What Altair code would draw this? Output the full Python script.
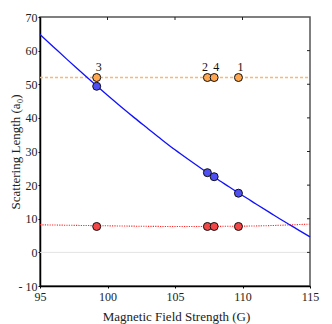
import altair as alt
import pandas as pd

# measured points
pt_B = [109.7, 107.4, 99.2, 107.9]
pt_label = ["1", "2", "3", "4"]
pt_orange = [52.0, 52.0, 52.0, 52.0]
pt_blue = [17.6, 23.7, 49.4, 22.5]
pt_red = [7.7, 7.7, 7.7, 7.7]

# blue curve
curve_B = [95, 96, 97, 98, 99, 100, 101, 102, 103, 104, 105, 106, 107, 108, 109, 110, 111, 112, 113, 114, 115]
curve_a = [64.8, 61.1, 57.4, 53.8, 50.2, 46.7, 43.3, 40.0, 36.8, 33.6, 30.5, 27.6, 24.8, 22.1, 19.5, 16.9, 14.4, 11.9, 9.4, 7.0, 4.6]

# orange dashed line
orange_B = [95, 115]
orange_a = [52.0, 52.0]

# red dotted line
red_B = [95, 100, 105, 110, 115]
red_a = [8.2, 7.9, 7.7, 7.8, 8.4]

x_ticks = [95, 100, 105, 110, 115]
y_ticks = [-10, 0, 10, 20, 30, 40, 50, 60, 70]
top_ticks = [100, 105, 110]
right_ticks = [0, 10, 20, 30, 40, 50, 60]

W, H = 270, 269
FONT = "Liberation Serif"

xs = alt.Scale(domain=[95, 115], nice=False, zero=False)
ys = alt.Scale(domain=[-10, 70], nice=False, zero=False)

pts = pd.DataFrame({"B": pt_B, "label": pt_label, "orange": pt_orange,
                    "blue": pt_blue, "red": pt_red})
curve = pd.DataFrame({"B": curve_B, "a": curve_a})
orl = pd.DataFrame({"B": orange_B, "a": orange_a})
rdl = pd.DataFrame({"B": red_B, "a": red_a})

xaxis = alt.Axis(values=x_ticks, title="Magnetic Field Strength (G)",
                 grid=False, tickSize=2, labelPadding=3, domainColor="#000", tickColor="#000",
                 labelOverlap=False, labelFlush=False,
                 titleX=136, titleY=30, titleBaseline="middle", titleAlign="center")
yaxis = alt.Axis(values=y_ticks, title="Scattering Length (a₀)",
                 grid=False, tickSize=2, labelPadding=1, domainColor="#000", tickColor="#000",
                 labelOverlap=False, labelFlush=False,
                 labelExpr="datum.value < 0 ? '- ' + abs(datum.value) : datum.label",
                 titleX=-25, titleY=134.5, titleAngle=270, titleAlign="center",
                 titleBaseline="middle")


def X(f):
    return alt.X(f, scale=xs, axis=xaxis)


def Y(f):
    return alt.Y(f, scale=ys, axis=yaxis)


zero = alt.Chart(pd.DataFrame({"y": [0]})).mark_rule(color="#e3e3e3", strokeWidth=1).encode(
    y=Y("y:Q"))

blue_line = alt.Chart(curve).mark_line(color="#1010ff", strokeWidth=1.3, interpolate="monotone").encode(
    x=X("B:Q"), y=Y("a:Q"))

orange_line = alt.Chart(orl).mark_line(color="#ffb673", strokeWidth=1.6, strokeDash=[3, 2]).encode(
    x=X("B:Q"), y=Y("a:Q"))

red_line = alt.Chart(rdl).mark_line(color="#ff2a2a", strokeWidth=1.1, strokeDash=[1.2, 1.2],
                                    interpolate="monotone").encode(
    x=X("B:Q"), y=Y("a:Q"))


def dots(field, fill):
    return alt.Chart(pts).mark_circle(size=64, opacity=1, fill=fill, stroke="#111", strokeWidth=1).encode(
        x=X("B:Q"), y=Y(f"{field}:Q"))


labels_r = alt.Chart(pts).transform_filter("datum.label != '2'").mark_text(
    dy=-11, dx=2, fontSize=12, font=FONT, color="#111").encode(
    x=X("B:Q"), y=Y("orange:Q"), text="label:N")
labels_l = alt.Chart(pts).transform_filter("datum.label == '2'").mark_text(
    dy=-11, dx=-2.5, fontSize=12, font=FONT, color="#111").encode(
    x=X("B:Q"), y=Y("orange:Q"), text="label:N")

tt = alt.Chart(pd.DataFrame({"t": top_ticks})).mark_rule(color="#222", strokeWidth=1).encode(
    x=X("t:Q"), y=alt.value(0), y2=alt.value(3))
rt = alt.Chart(pd.DataFrame({"t": right_ticks})).mark_rule(color="#222", strokeWidth=1).encode(
    y=Y("t:Q"), x=alt.value(W - 3), x2=alt.value(W))

chart = alt.layer(zero, red_line, orange_line, blue_line,
                  dots("red", "#f04848"), dots("blue", "#4f4ff2"), dots("orange", "#ffa64f"),
                  labels_r, labels_l, tt, rt).properties(
    width=W, height=H,
    autosize=alt.AutoSizeParams(type="none"),
    padding={"left": 32, "top": 9, "right": 14, "bottom": 38},
).configure_view(stroke="#555", strokeWidth=1.5).configure_axis(
    labelFont=FONT, titleFont=FONT, labelFontSize=12, titleFontSize=13,
    labelColor="#222", titleColor="#222", titleFontWeight="normal", domainWidth=1.5,
    labelOverlap=False
)

chart.save("out.html", embed_options={"renderer": "svg", "actions": False})
